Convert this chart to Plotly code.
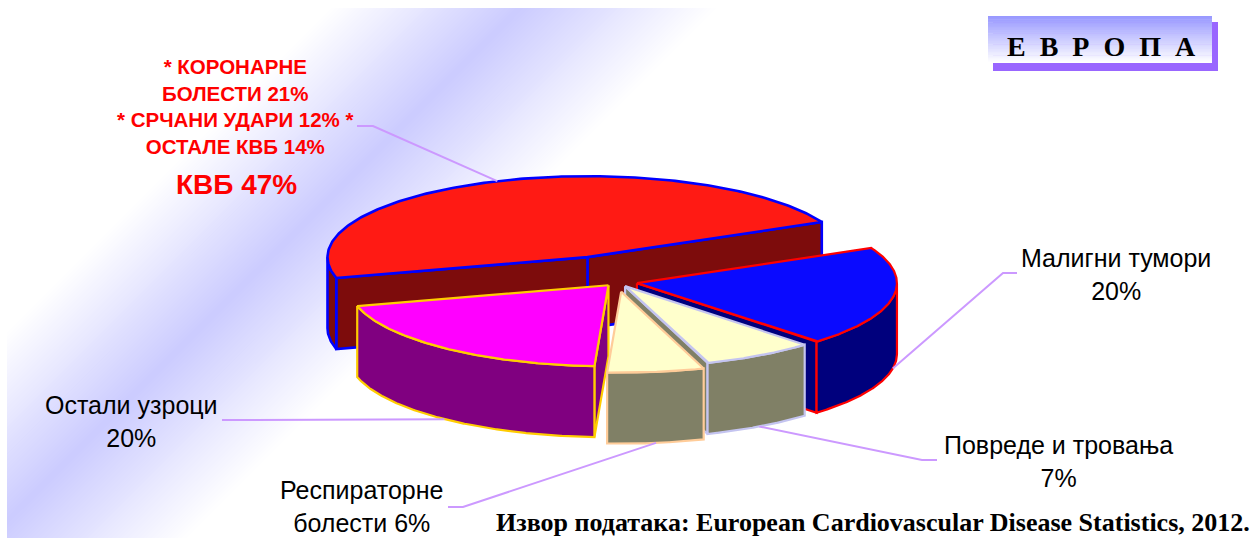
import numpy as np
import plotly.graph_objects as go

W, H = 1259, 538

# ---------------- data ----------------
causes = ["Малигни тумори", "Повреде и тровања", "Респираторне болести", "Остали узроци", "КВБ"]
shares = [20, 7, 6, 20, 47]                       # % of deaths, clockwise order
cvd_parts = ["КОРОНАРНЕ БОЛЕСТИ", "СРЧАНИ УДАРИ", "ОСТАЛЕ КВБ"]
cvd_shares = [21, 12, 14]
region_title = "ЕВРОПА"
source_text = "Извор података: European Cardiovascular Disease Statistics, 2012."

# ---------------- styles ----------------
top_colors = ["#0A0AFF", "#FFFFCC", "#FFFFCC", "#FF00FF", "#FF1A14"]
side_colors = ["#00007D", "#808066", "#808066", "#800080", "#7D0C0C"]
edge_colors = ["#FF0000", "#C4C4F0", "#FFCC99", "#FFCC00", "#0000FF"]
explode = [0.078, 0.06, 0.12, 0.052, 0.327]
LEADER = "#CC99FF"

# pie geometry (pixel units, y grows downward)
CX, CY = 617, 282
RX, RY = 260, 81
DEPTH = 71
START = 25.7          # math angle (deg) where the first slice begins, going clockwise


def rim(cx, cy, t, down=0.0):
    r = np.radians(t)
    return cx + RX * np.cos(r), cy - RY * np.sin(r) + down


fig = go.Figure()

# slice angular extents
cum = np.concatenate([[0], np.cumsum(shares)])
slices = []
for i, v in enumerate(shares):
    t2 = START - 360 * cum[i] / 100.0       # counter-clockwise end
    t1 = START - 360 * cum[i + 1] / 100.0   # counter-clockwise start
    mid = (t1 + t2) / 2
    e = explode[i]
    cx = CX + e * RX * np.cos(np.radians(mid))
    cy = CY - e * RY * np.sin(np.radians(mid))
    slices.append(dict(i=i, t1=t1, t2=t2, mid=mid, cx=cx, cy=cy))


def poly(xs, ys, fill, edge, width=2.2):
    fig.add_trace(go.Scatter(
        x=list(xs) + [xs[0]], y=list(ys) + [ys[0]], mode="lines", fill="toself",
        fillcolor=fill, line=dict(color=edge, width=width), hoverinfo="skip",
        showlegend=False))


# back slices first
for s in sorted(slices, key=lambda s: -np.sin(np.radians(s["mid"]))):
    i, t1, t2, cx, cy = s["i"], s["t1"], s["t2"], s["cx"], s["cy"]
    fill_top, fill_side, edge = top_colors[i], side_colors[i], edge_colors[i]
    lw = 2.6 if i == 4 else 2.2
    # radial side walls facing the viewer
    for t, vis in ((t1, np.cos(np.radians(t1)) > 0), (t2, np.cos(np.radians(t2)) < 0)):
        if vis:
            rx0, ry0 = rim(cx, cy, t)
            poly([cx, rx0, rx0, cx], [cy, ry0, ry0 + DEPTH, cy + DEPTH], fill_side, edge, lw)
    # curved outer wall on the front half
    ts = np.linspace(t1, t2, 240)
    front = np.sin(np.radians(ts)) < 0
    runs, cur = [], []
    for t, f in zip(ts, front):
        if f:
            cur.append(t)
        elif cur:
            runs.append(cur); cur = []
    if cur:
        runs.append(cur)
    for run in runs:
        run = np.array(run)
        xt, yt = rim(cx, cy, run)
        xb, yb = rim(cx, cy, run[::-1], DEPTH)
        poly(np.concatenate([xt, xb]), np.concatenate([yt, yb]), fill_side, edge, lw)
    # top face
    xa, ya = rim(cx, cy, ts)
    poly(np.concatenate([[cx], xa]), np.concatenate([[cy], ya]), fill_top, edge, lw)

# ---------------- labels with leader lines ----------------
label_font = dict(family="Liberation Sans, Arial, sans-serif", size=25, color="black")
label_pos = [(1116, 274), (1058, 461), (361, 506), (131, 421)]
label_elbow = [((1017, 273), (1003, 273)), ((937, 460), (922, 460)),
               ((448, 507), (463, 507)), ((222, 420), (236, 420))]
label_names = ["Малигни тумори<br>", "Повреде и тровања<br>", "Респираторне<br>болести ", "Остали узроци<br>"]

for i in range(4):
    s = slices[i]
    ax_, ay_ = rim(s["cx"], s["cy"], s["mid"], DEPTH)
    (p0, p1) = label_elbow[i]
    fig.add_trace(go.Scatter(x=[p0[0], p1[0], ax_], y=[p0[1], p1[1], ay_], mode="lines",
                             line=dict(color=LEADER, width=2), hoverinfo="skip", showlegend=False))
    fig.add_annotation(x=label_pos[i][0], y=label_pos[i][1], text=f"{label_names[i]}{shares[i]}%",
                       showarrow=False, font=label_font, xanchor="center", yanchor="middle")

# cardiovascular slice label
s = slices[4]
ax_, ay_ = rim(s["cx"], s["cy"], s["mid"])
fig.add_trace(go.Scatter(x=[357, 373, ax_], y=[126, 126, ay_], mode="lines",
                         line=dict(color=LEADER, width=2), hoverinfo="skip", showlegend=False))
cvd_text = (f"* {cvd_parts[0].split()[0]}<br>{cvd_parts[0].split()[1]} {cvd_shares[0]}%<br>"
            f"* {cvd_parts[1]} {cvd_shares[1]}% *<br>{cvd_parts[2]} {cvd_shares[2]}%")
fig.add_annotation(x=235, y=106, text=cvd_text, showarrow=False, xanchor="center", yanchor="middle",
                   font=dict(family="Liberation Sans, Arial, sans-serif", size=20.5, color="#FF0000",
                             weight="bold"))
fig.add_annotation(x=236, y=184, text=f"{causes[4]} {shares[4]}%", showarrow=False,
                   xanchor="center", yanchor="middle",
                   font=dict(family="Liberation Sans, Arial, sans-serif", size=28, color="#FF0000",
                             weight="bold"))

# source line
fig.add_annotation(x=873, y=522, text=source_text, showarrow=False, xanchor="center", yanchor="middle",
                   font=dict(family="Liberation Serif, Times New Roman, serif", size=26,
                             color="black", weight="bold"))

# ---------------- background and title box ----------------
shapes = []


def mix(c, f):
    return "rgb(%d,%d,%d)" % tuple(round(255 + (ci - 255) * f) for ci in c)


# diagonal light-blue band
PEAK = (204, 204, 255)
S0, LW_, RW_ = 528, 188, 196
N = 50
for k in range(N):
    f = (k + 1) / N
    sa = S0 - LW_ * (1 - k / N)
    sb = S0 + RW_ * (1 - k / N)
    path = f"M{sa-8},8 L{sb-8},8 L{sb-H},{H} L{sa-H},{H} Z"
    shapes.append(dict(type="path", path=path, xref="x", yref="y", fillcolor=mix(PEAK, f),
                       line=dict(width=0), layer="below"))
shapes.append(dict(type="rect", x0=-5, x1=7, y0=-5, y1=H + 5, xref="x", yref="y",
                   fillcolor="white", line=dict(width=0), layer="below"))
shapes.append(dict(type="rect", x0=-5, x1=W + 5, y0=-5, y1=8, xref="x", yref="y",
                   fillcolor="white", line=dict(width=0), layer="below"))

# title box: shadow + vertical gradient
shapes.append(dict(type="rect", x0=993, x1=1218, y0=22, y1=71, xref="x", yref="y",
                   fillcolor="#9966FF", line=dict(width=0), layer="below"))
BX0, BX1, BY0, BY1 = 988, 1212, 16, 63
NB = 30
TOPC = (153, 153, 255)
for k in range(NB):
    y0 = BY0 + (BY1 - BY0) * k / NB
    y1 = BY0 + (BY1 - BY0) * (k + 1) / NB + (0.6 if k < NB - 1 else 0)
    shapes.append(dict(type="rect", x0=BX0, x1=BX1, y0=y0, y1=y1, xref="x", yref="y",
                       fillcolor=mix(TOPC, 1 - k / (NB - 1)), line=dict(width=0), layer="below"))

fig.add_annotation(x=1101, y=46, text="\u2002".join(region_title), showarrow=False,
                   xanchor="center", yanchor="middle",
                   font=dict(family="Liberation Serif, Times New Roman, serif", size=28,
                             color="black", weight="bold"))

fig.update_layout(
    width=W, height=H, margin=dict(l=0, r=0, t=0, b=0),
    paper_bgcolor="white", plot_bgcolor="white", shapes=shapes,
    xaxis=dict(range=[0, W], visible=False, fixedrange=True),
    yaxis=dict(range=[H, 0], visible=False, fixedrange=True),
)

fig.write_html("out.html")
